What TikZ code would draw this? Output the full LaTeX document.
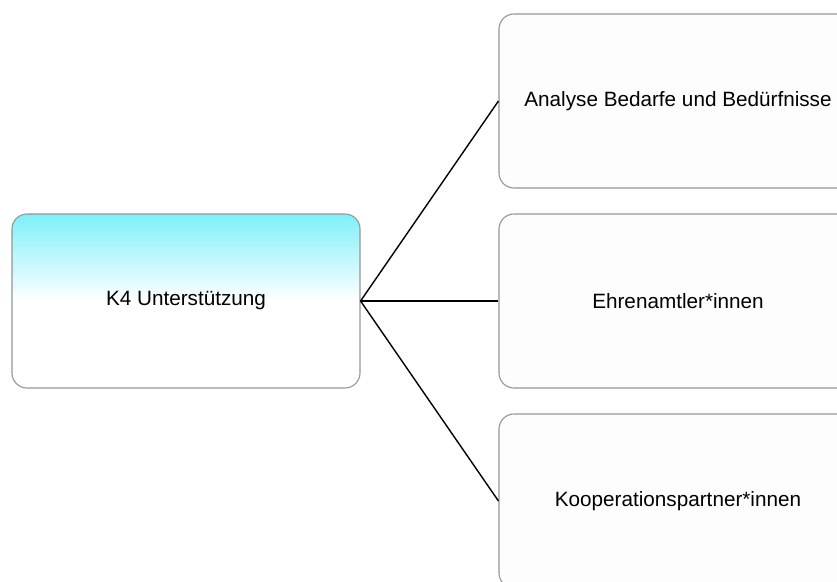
\documentclass[tikz,border=0pt]{standalone}
\usepackage{fontspec}
\setmainfont{Liberation Sans}
\definecolor{topcyan}{RGB}{126,240,249}
\definecolor{boxedge}{RGB}{150,150,150}
\definecolor{boxfill}{RGB}{253,253,253}
% vertical fade: white in the lower half, cyan at the top edge
\pgfdeclareverticalshading{cyanfade}{100bp}{%
  color(0bp)=(white); color(50bp)=(white); color(75bp)=(topcyan); color(100bp)=(topcyan)}
\begin{document}
\begin{tikzpicture}[x=1pt,y=-1pt,
  card/.style={draw=boxedge, line width=1.1pt, rounded corners=15pt,
    minimum height=174pt, inner sep=0pt,
    font=\fontsize{20.7}{24}\selectfont},
  hub/.style={card, minimum width=348pt, shading=cyanfade},
  leaf/.style={card, minimum width=358pt, fill=boxfill},
  link/.style={black, line width=1.4pt}]
\useasboundingbox (0,0) rectangle (837,581);
\clip (0,0) rectangle (837,581);
\fill[white] (0,0) rectangle (837,581);

\node[hub]  (k4) at (186,301) {K4 Unterstützung};
\node[leaf] (a1) at (678,101) {Analyse Bedarfe und Bedürfnisse};
\node[leaf] (a2) at (678,301) {Ehrenamtler*innen};
\node[leaf] (a3) at (678,501) {Kooperationspartner*innen};

\draw[link] (k4.east) -- (a1.west);
\draw[link] (k4.east) -- (a2.west);
\draw[link] (k4.east) -- (a3.west);
\end{tikzpicture}
\end{document}
